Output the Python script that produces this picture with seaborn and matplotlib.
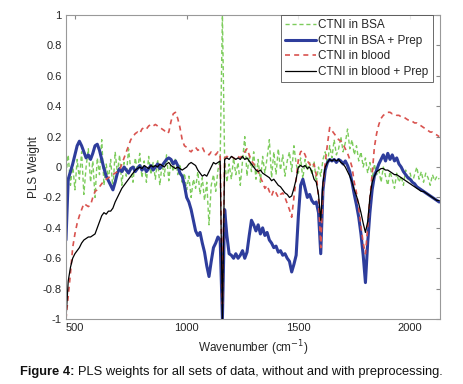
import numpy as np
import pandas as pd
import matplotlib
matplotlib.use("Agg")
import matplotlib.pyplot as plt
import matplotlib.ticker as ticker
import seaborn as sns

# wavenumber grid (cm^-1), 10 cm^-1 spacing
wavenumber = np.arange(460, 2131, 10)

bsa = [
    -0.05, 0.08, -0.12, 0.02, -0.15, 0.05, -0.08, 0.10, -0.18, 0.00,
    0.12, -0.10, 0.04, -0.20, 0.06, -0.05, 0.18, -0.12, 0.02, -0.08,
    0.05, -0.15, 0.10, -0.04, 0.08, -0.12, 0.03, -0.06, 0.12, -0.02,
    -0.10, 0.06, -0.03, 0.09, -0.07, 0.04, -0.10, 0.07, -0.05, 0.03,
    -0.08, 0.05, -0.12, 0.02, -0.06, 0.08, -0.09, 0.04, -0.03, 0.06,
    -0.05, 0.02, -0.10, -0.04, -0.15, -0.06, -0.20, -0.08, -0.14, -0.03,
    -0.18, -0.07, -0.22, -0.10, -0.38, -0.12, -0.05, -0.16, -0.02, 0.05,
    1.00, 0.04, -0.10, 0.02, -0.08, 0.06, -0.05, 0.03, -0.12, 0.04,
    0.20, -0.06, 0.08, -0.03, 0.10, -0.08, 0.05, -0.10, 0.07, -0.04,
    0.06, 0.18, -0.07, 0.10, -0.05, 0.12, -0.02, 0.08, -0.06, 0.04,
    0.10, -0.03, 0.14, 0.02, -0.04, 0.06, -0.08, 0.05, -0.02, 0.03,
    -0.05, 0.04, -0.10, 0.00, -0.06, 0.05, 0.10, 0.02, 0.14, 0.06,
    0.18, 0.08, 0.12, 0.20, 0.10, 0.16, 0.25, 0.12, 0.18, 0.08,
    0.14, 0.04, 0.10, 0.00, 0.06, -0.04, 0.03, -0.08, 0.02, -0.05,
    -0.02, -0.10, 0.00, -0.06, -0.12, -0.03, -0.08, -0.14, -0.04, -0.10,
    -0.06, -0.12, -0.02, -0.09, -0.04, -0.10, -0.05, 0.00, -0.08, -0.03,
    -0.10, -0.04, -0.07, -0.12, -0.05, -0.09, -0.06, -0.08,
]

bsa_prep = [
    -0.48, -0.08, -0.03, 0.02, 0.08, 0.14, 0.17, 0.14, 0.10, 0.06,
    0.08, 0.05, 0.09, 0.14, 0.15, 0.11, 0.05, -0.01, -0.06, -0.09,
    -0.12, -0.15, -0.10, -0.04, -0.01, -0.03, 0.00, -0.02, -0.04, -0.01,
    0.00, -0.03, -0.01, 0.01, -0.02, 0.00, -0.03, -0.01, 0.01, -0.02,
    0.00, 0.02, -0.01, 0.01, 0.03, 0.05, 0.06, 0.05, 0.02, 0.04,
    0.01, -0.04, -0.06, -0.12, -0.20, -0.23, -0.28, -0.35, -0.42, -0.45,
    -0.43, -0.50, -0.56, -0.65, -0.72, -0.62, -0.53, -0.50, -0.46, -0.48,
    -1.00, -0.28, -0.45, -0.57, -0.58, -0.60, -0.57, -0.60, -0.58, -0.55,
    -0.60, -0.56, -0.45, -0.35, -0.38, -0.42, -0.38, -0.44, -0.40, -0.45,
    -0.43, -0.48, -0.50, -0.53, -0.52, -0.56, -0.55, -0.58, -0.57, -0.60,
    -0.62, -0.69, -0.64, -0.58, -0.32, -0.12, -0.08, -0.14, -0.20, -0.18,
    -0.22, -0.24, -0.23, -0.30, -0.57, -0.15, -0.02, 0.03, 0.05, 0.04,
    0.05, 0.03, 0.05, 0.04, 0.02, 0.04, 0.01, -0.03, -0.10, -0.18,
    -0.25, -0.33, -0.44, -0.58, -0.76, -0.50, -0.30, -0.15, -0.06, -0.02,
    0.02, 0.05, 0.08, 0.04, 0.09, 0.05, 0.08, 0.04, 0.06, 0.02,
    0.00, -0.03, -0.05, -0.07, -0.08, -0.10, -0.11, -0.13, -0.14, -0.15,
    -0.16, -0.17, -0.18, -0.19, -0.20, -0.21, -0.22, -0.23,
]

blood = [
    -1.00, -0.85, -0.70, -0.53, -0.44, -0.37, -0.32, -0.28, -0.24, -0.25,
    -0.26, -0.25, -0.20, -0.16, -0.15, -0.13, -0.11, -0.09, -0.08, -0.07,
    -0.06, -0.05, -0.04, -0.03, -0.02, 0.02, 0.06, 0.10, 0.14, 0.18,
    0.20, 0.22, 0.23, 0.22, 0.25, 0.26, 0.25, 0.27, 0.28, 0.27,
    0.28, 0.27, 0.26, 0.25, 0.24, 0.22, 0.23, 0.30, 0.35, 0.36,
    0.32, 0.26, 0.18, 0.14, 0.13, 0.11, 0.10, 0.12, 0.13, 0.11,
    0.12, 0.13, 0.10, 0.09, 0.08, 0.10, 0.09, 0.08, 0.10, 0.07,
    -0.90, 0.06, 0.07, 0.06, 0.07, 0.06, 0.05, 0.07, 0.06, 0.08,
    0.10, 0.12, 0.08, 0.04, 0.02, 0.00, -0.03, -0.07, -0.10, -0.14,
    -0.12, -0.16, -0.19, -0.15, -0.17, -0.20, -0.18, -0.17, -0.20, -0.24,
    -0.28, -0.33, -0.20, -0.08, 0.05, 0.10, 0.11, 0.08, 0.04, 0.02,
    0.00, 0.02, -0.05, -0.20, -0.53, -0.15, 0.03, 0.15, 0.26, 0.24,
    0.22, 0.20, 0.18, 0.17, 0.15, 0.12, 0.09, 0.05, 0.00, -0.10,
    -0.17, -0.27, -0.39, -0.50, -0.57, -0.40, -0.20, -0.05, 0.13, 0.22,
    0.28, 0.32, 0.34, 0.35, 0.36, 0.36, 0.35, 0.35, 0.34, 0.34,
    0.33, 0.33, 0.32, 0.31, 0.31, 0.30, 0.29, 0.29, 0.28, 0.27,
    0.26, 0.25, 0.24, 0.23, 0.23, 0.22, 0.21, 0.20,
]

blood_prep = [
    -1.00, -0.75, -0.66, -0.60, -0.57, -0.55, -0.53, -0.50, -0.48, -0.47,
    -0.46, -0.46, -0.45, -0.44, -0.40, -0.36, -0.32, -0.30, -0.31, -0.29,
    -0.29, -0.27, -0.23, -0.20, -0.17, -0.14, -0.12, -0.10, -0.08, -0.06,
    -0.04, -0.02, -0.01, 0.00, -0.01, 0.01, 0.00, -0.01, 0.01, 0.00,
    0.01, 0.00, 0.02, 0.01, 0.00, 0.02, 0.03, 0.01, 0.00, -0.01,
    0.00, -0.01, -0.02, -0.01, 0.00, 0.02, 0.03, 0.02, 0.01, -0.02,
    -0.04, -0.06, -0.05, -0.06, -0.03, 0.00, 0.03, 0.02, 0.03, 0.04,
    -1.00, 0.05, 0.06, 0.05, 0.07, 0.06, 0.05, 0.06, 0.05, 0.07,
    0.05, 0.06, 0.04, 0.02, 0.00, -0.02, -0.03, -0.02, -0.04, -0.05,
    -0.06, -0.07, -0.09, -0.08, -0.10, -0.12, -0.13, -0.15, -0.17, -0.18,
    -0.20, -0.19, -0.14, -0.08, 0.00, 0.01, 0.00, 0.01, -0.01, 0.00,
    -0.03, -0.08, -0.10, -0.18, -0.35, -0.10, 0.00, 0.03, 0.05, 0.04,
    0.05, 0.04, 0.05, 0.03, 0.02, 0.00, -0.03, -0.06, -0.10, -0.15,
    -0.19, -0.24, -0.30, -0.37, -0.43, -0.36, -0.20, -0.10, -0.06, -0.03,
    -0.02, -0.01, -0.01, -0.02, -0.02, -0.03, -0.04, -0.05, -0.05, -0.06,
    -0.07, -0.08, -0.09, -0.10, -0.11, -0.12, -0.13, -0.14, -0.15, -0.16,
    -0.16, -0.17, -0.18, -0.19, -0.20, -0.21, -0.22, -0.22,
]

labels = ["CTNI in BSA", "CTNI in BSA + Prep", "CTNI in blood", "CTNI in blood + Prep"]
y_ticks = [-1, -0.8, -0.6, -0.4, -0.2, 0, 0.2, 0.4, 0.6, 0.8, 1]
x_ticks = [500, 1000, 1500, 2000]

df = pd.DataFrame({"Wavenumber": wavenumber, labels[0]: bsa, labels[1]: bsa_prep,
                   labels[2]: blood, labels[3]: blood_prep})

sns.set_style("white")
plt.rcParams["font.family"] = ["Liberation Sans", "DejaVu Sans"]
plt.rcParams["axes.unicode_minus"] = True

fig = plt.figure(figsize=(4.63, 3.84), dpi=100)
ax = fig.add_axes([0.1425, 0.169, 0.8075, 0.792])

styles = [
    dict(color="#7dcc5c", lw=1.0, dashes=(3, 2)),
    dict(color="#2e3d9c", lw=2.2, dashes=""),
    dict(color="#d9534f", lw=1.2, dashes=(3, 2.5)),
    dict(color="black", lw=0.9, dashes=""),
]
for lab, st in zip(labels, styles):
    sns.lineplot(data=df, x="Wavenumber", y=lab, ax=ax, color=st["color"],
                 lw=st["lw"], label=lab)
    if st["dashes"]:
        ax.lines[-1].set_dashes(st["dashes"])

ax.set_xlim(460, 2133)
ax.set_ylim(-1, 1)
ax.set_xticks(x_ticks)
ax.set_yticks(y_ticks)
ax.yaxis.set_major_formatter(ticker.FuncFormatter(lambda v, _: "%g" % v))
ax.tick_params(direction="in", length=3, labelsize=8, top=True, right=True,
               color="#888888", pad=3)
for s in ax.spines.values():
    s.set_color("#999999")
    s.set_linewidth(0.8)
ax.set_xlabel("Wavenumber (cm$^{-1}$)", fontsize=8.5, labelpad=4)
ax.set_ylabel("PLS Weight", fontsize=8.5, labelpad=2)

leg = ax.legend(loc="upper right", fontsize=8.5, frameon=True, fancybox=False,
                borderpad=0.35, labelspacing=0.3, handlelength=2.6, handletextpad=0.2,
                borderaxespad=0.0, bbox_to_anchor=(0.981, 1.0))
leg.get_frame().set_edgecolor("#444444")
leg.get_frame().set_linewidth(0.7)

t1 = fig.text(0.043, 0.023, "Figure 4:", fontsize=9.25, fontweight="bold", color="#111111")
fig.canvas.draw()
bb = t1.get_window_extent()
x2 = bb.x1 / fig.bbox.width + 0.008
fig.text(x2, 0.023, "PLS weights for all sets of data, without and with preprocessing.",
         fontsize=9.25, color="#111111")

fig.savefig("out.png", dpi=100)
